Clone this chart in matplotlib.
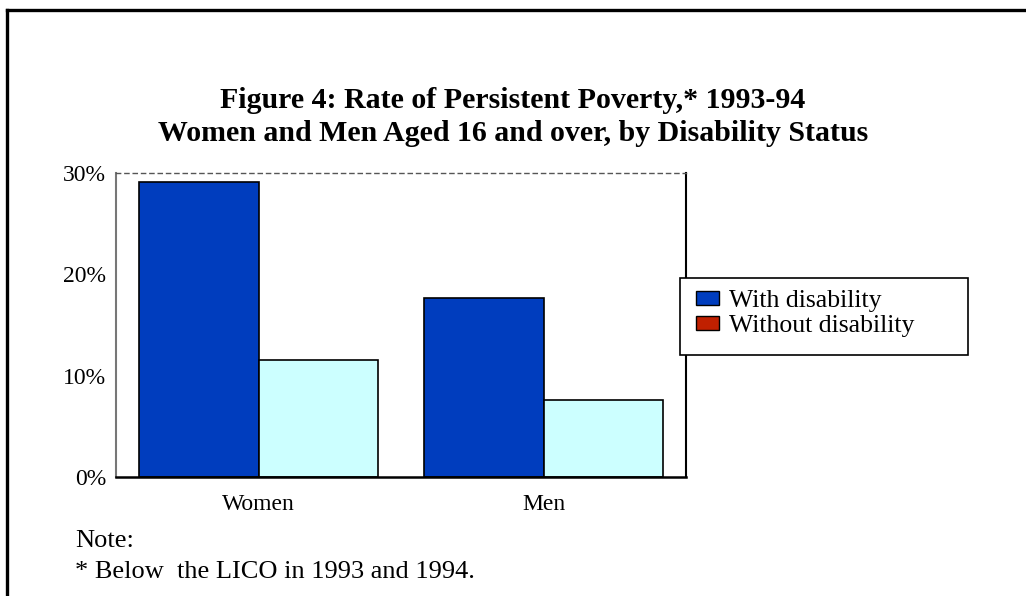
import numpy as np
import matplotlib.pyplot as plt
from matplotlib.patches import Patch, Rectangle
from matplotlib.lines import Line2D

plt.rcParams['font.family'] = ['Liberation Serif', 'DejaVu Serif']

groups = ['Women', 'Men']
series = ['With disability', 'Without disability']
with_disability = [29.1, 17.7]
without_disability = [11.5, 7.6]
yticks = [0, 10, 20, 30]
ytick_labels = ['0%', '10%', '20%', '30%']

blue = '#003dbe'
cyan = '#ccffff'
legend_colors = [blue, '#c02000']

W, H = 1026, 596
fig = plt.figure(figsize=(W / 100, H / 100), dpi=100)
ax = fig.add_axes([116 / W, 1 - 477 / H, 570 / W, 304 / H])

x = np.arange(len(groups))
w = 0.42
ax.bar(x - w / 2, with_disability, w, color=blue, edgecolor='black', linewidth=1.2)
ax.bar(x + w / 2, without_disability, w, color=cyan, edgecolor='black', linewidth=1.2)

ax.set_xlim(-0.5, 1.5)
ax.set_ylim(0, 30)
ax.set_xticks(x)
ax.set_xticklabels(groups, fontsize=17)
ax.set_yticks(yticks)
ax.set_yticklabels(ytick_labels, fontsize=17)
ax.tick_params(axis='both', length=0)
ax.tick_params(axis='y', pad=7)
ax.tick_params(axis='x', pad=12)

ax.spines['left'].set_color('#777777')
ax.spines['left'].set_linewidth(1.5)
ax.spines['right'].set_color('black')
ax.spines['right'].set_linewidth(1.5)
ax.spines['bottom'].set_color('black')
ax.spines['bottom'].set_linewidth(1.8)
ax.spines['top'].set_linestyle((0, (3, 3)))
ax.spines['top'].set_color('#555555')
ax.spines['top'].set_linewidth(1.0)

# legend box drawn separately so it can be wider than its entries
fig.add_artist(Rectangle((680 / W, 1 - 355 / H), 288 / W, 77 / H, transform=fig.transFigure,
                         facecolor='white', edgecolor='black', linewidth=1.2))
handles = [Patch(facecolor=c, edgecolor='black', linewidth=1) for c in legend_colors]
leg = fig.legend(handles, series, loc='upper left',
                 bbox_to_anchor=(696 / W, 1 - 290 / H),
                 fontsize=18.5, frameon=False,
                 handlelength=0.9, handleheight=0.5, handletextpad=0.4,
                 labelspacing=0.12, borderpad=0, borderaxespad=0)

fig.text(0.5, 1 - 117 / H,
         'Figure 4: Rate of Persistent Poverty,* 1993-94\n'
         'Women and Men Aged 16 and over, by Disability Status',
         ha='center', va='center', fontsize=21.5, fontweight='bold', linespacing=1.3)

fig.text(75 / W, 1 - 541 / H, 'Note:', fontsize=19, va='center')
fig.text(75 / W, 1 - 572 / H, '* Below  the LICO in 1993 and 1994.', fontsize=19, va='center')

# outer frame: top and left edges only
fig.add_artist(Line2D([7 / W, 1], [1 - 10 / H, 1 - 10 / H], color='black', linewidth=2.4,
                      transform=fig.transFigure))
fig.add_artist(Line2D([7 / W, 7 / W], [0, 1 - 10 / H], color='black', linewidth=2.4,
                      transform=fig.transFigure))

fig.savefig('out.png', dpi=100)
